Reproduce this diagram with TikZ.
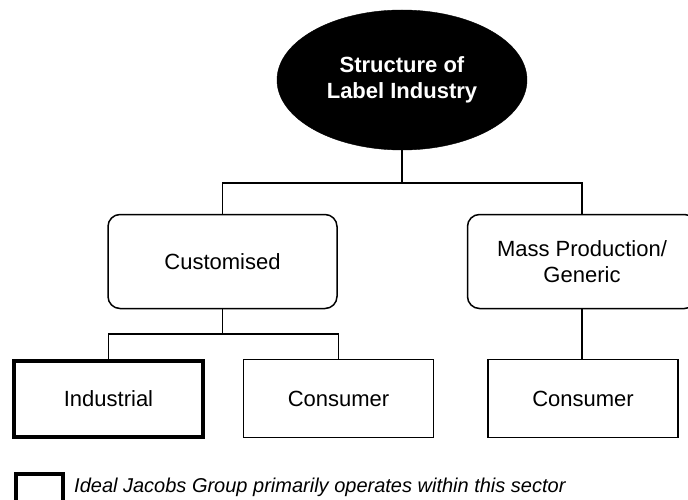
\documentclass[tikz,border=0pt]{standalone}
\usepackage{fontspec}
\setmainfont{Liberation Sans}
\usetikzlibrary{shapes.geometric}
\begin{document}
\begin{tikzpicture}[x=1pt,y=1pt,
  lbl/.style={font=\fontsize{22}{26}\selectfont, align=center, inner sep=0pt},
  link/.style={line width=1.5pt},
  rootnode/.style={ellipse, fill=black, draw=black, text=white,
    minimum width=250pt, minimum height=140pt, inner sep=0pt,
    font=\fontsize{22}{26}\selectfont\bfseries, align=center},
  groupbox/.style={lbl, draw, line width=1.5pt, rounded corners=12pt,
    minimum width=229pt, minimum height=94pt},
  sectorbox/.style={lbl, draw, line width=1.5pt,
    minimum width=190pt, minimum height=78pt},
  mainbox/.style={sectorbox, line width=4pt,
    minimum width=189pt, minimum height=76pt}]
  \useasboundingbox[fill=white] (0,0) rectangle (688,499);

  % top of the hierarchy
  \node[rootnode] (root) at (402,419) {Structure of\\Label Industry};

  % two market groups
  \node[groupbox] (cust) at (222.5,237.5) {Customised};
  \node[groupbox] (mass) at (582,237.5) {Mass Production/\\Generic};

  % sectors
  \node[mainbox]   (ind)  at (108.5,100) {Industrial};
  \node[sectorbox] (conl) at (338.5,100.5) {Consumer};
  \node[sectorbox] (conr) at (583,100.5) {Consumer};

  % connectors
  \coordinate (split) at (402,316);
  \draw[link] (root.south) -- (split);
  \draw[link] (split) -| (cust.north);
  \draw[link] (split) -| (mass.north);
  \coordinate (csplit) at (222.5,165);
  \draw[link] (cust.south) -- (csplit);
  \draw[link] (csplit) -| (ind.north);
  \draw[link] (csplit) -| (conl.north);
  \draw[link] (mass.south) -- (mass.south |- conr.north);

  % key
  \node[draw, line width=4pt, minimum width=47pt, minimum height=40pt,
    inner sep=0pt, anchor=north west] (key) at (14,27) {};
  \node[anchor=base west, inner sep=0pt,
    font=\fontsize{20}{24}\selectfont\itshape] (keytext) at (74,7)
    {Ideal Jacobs Group primarily operates within this sector};
\end{tikzpicture}
\end{document}
